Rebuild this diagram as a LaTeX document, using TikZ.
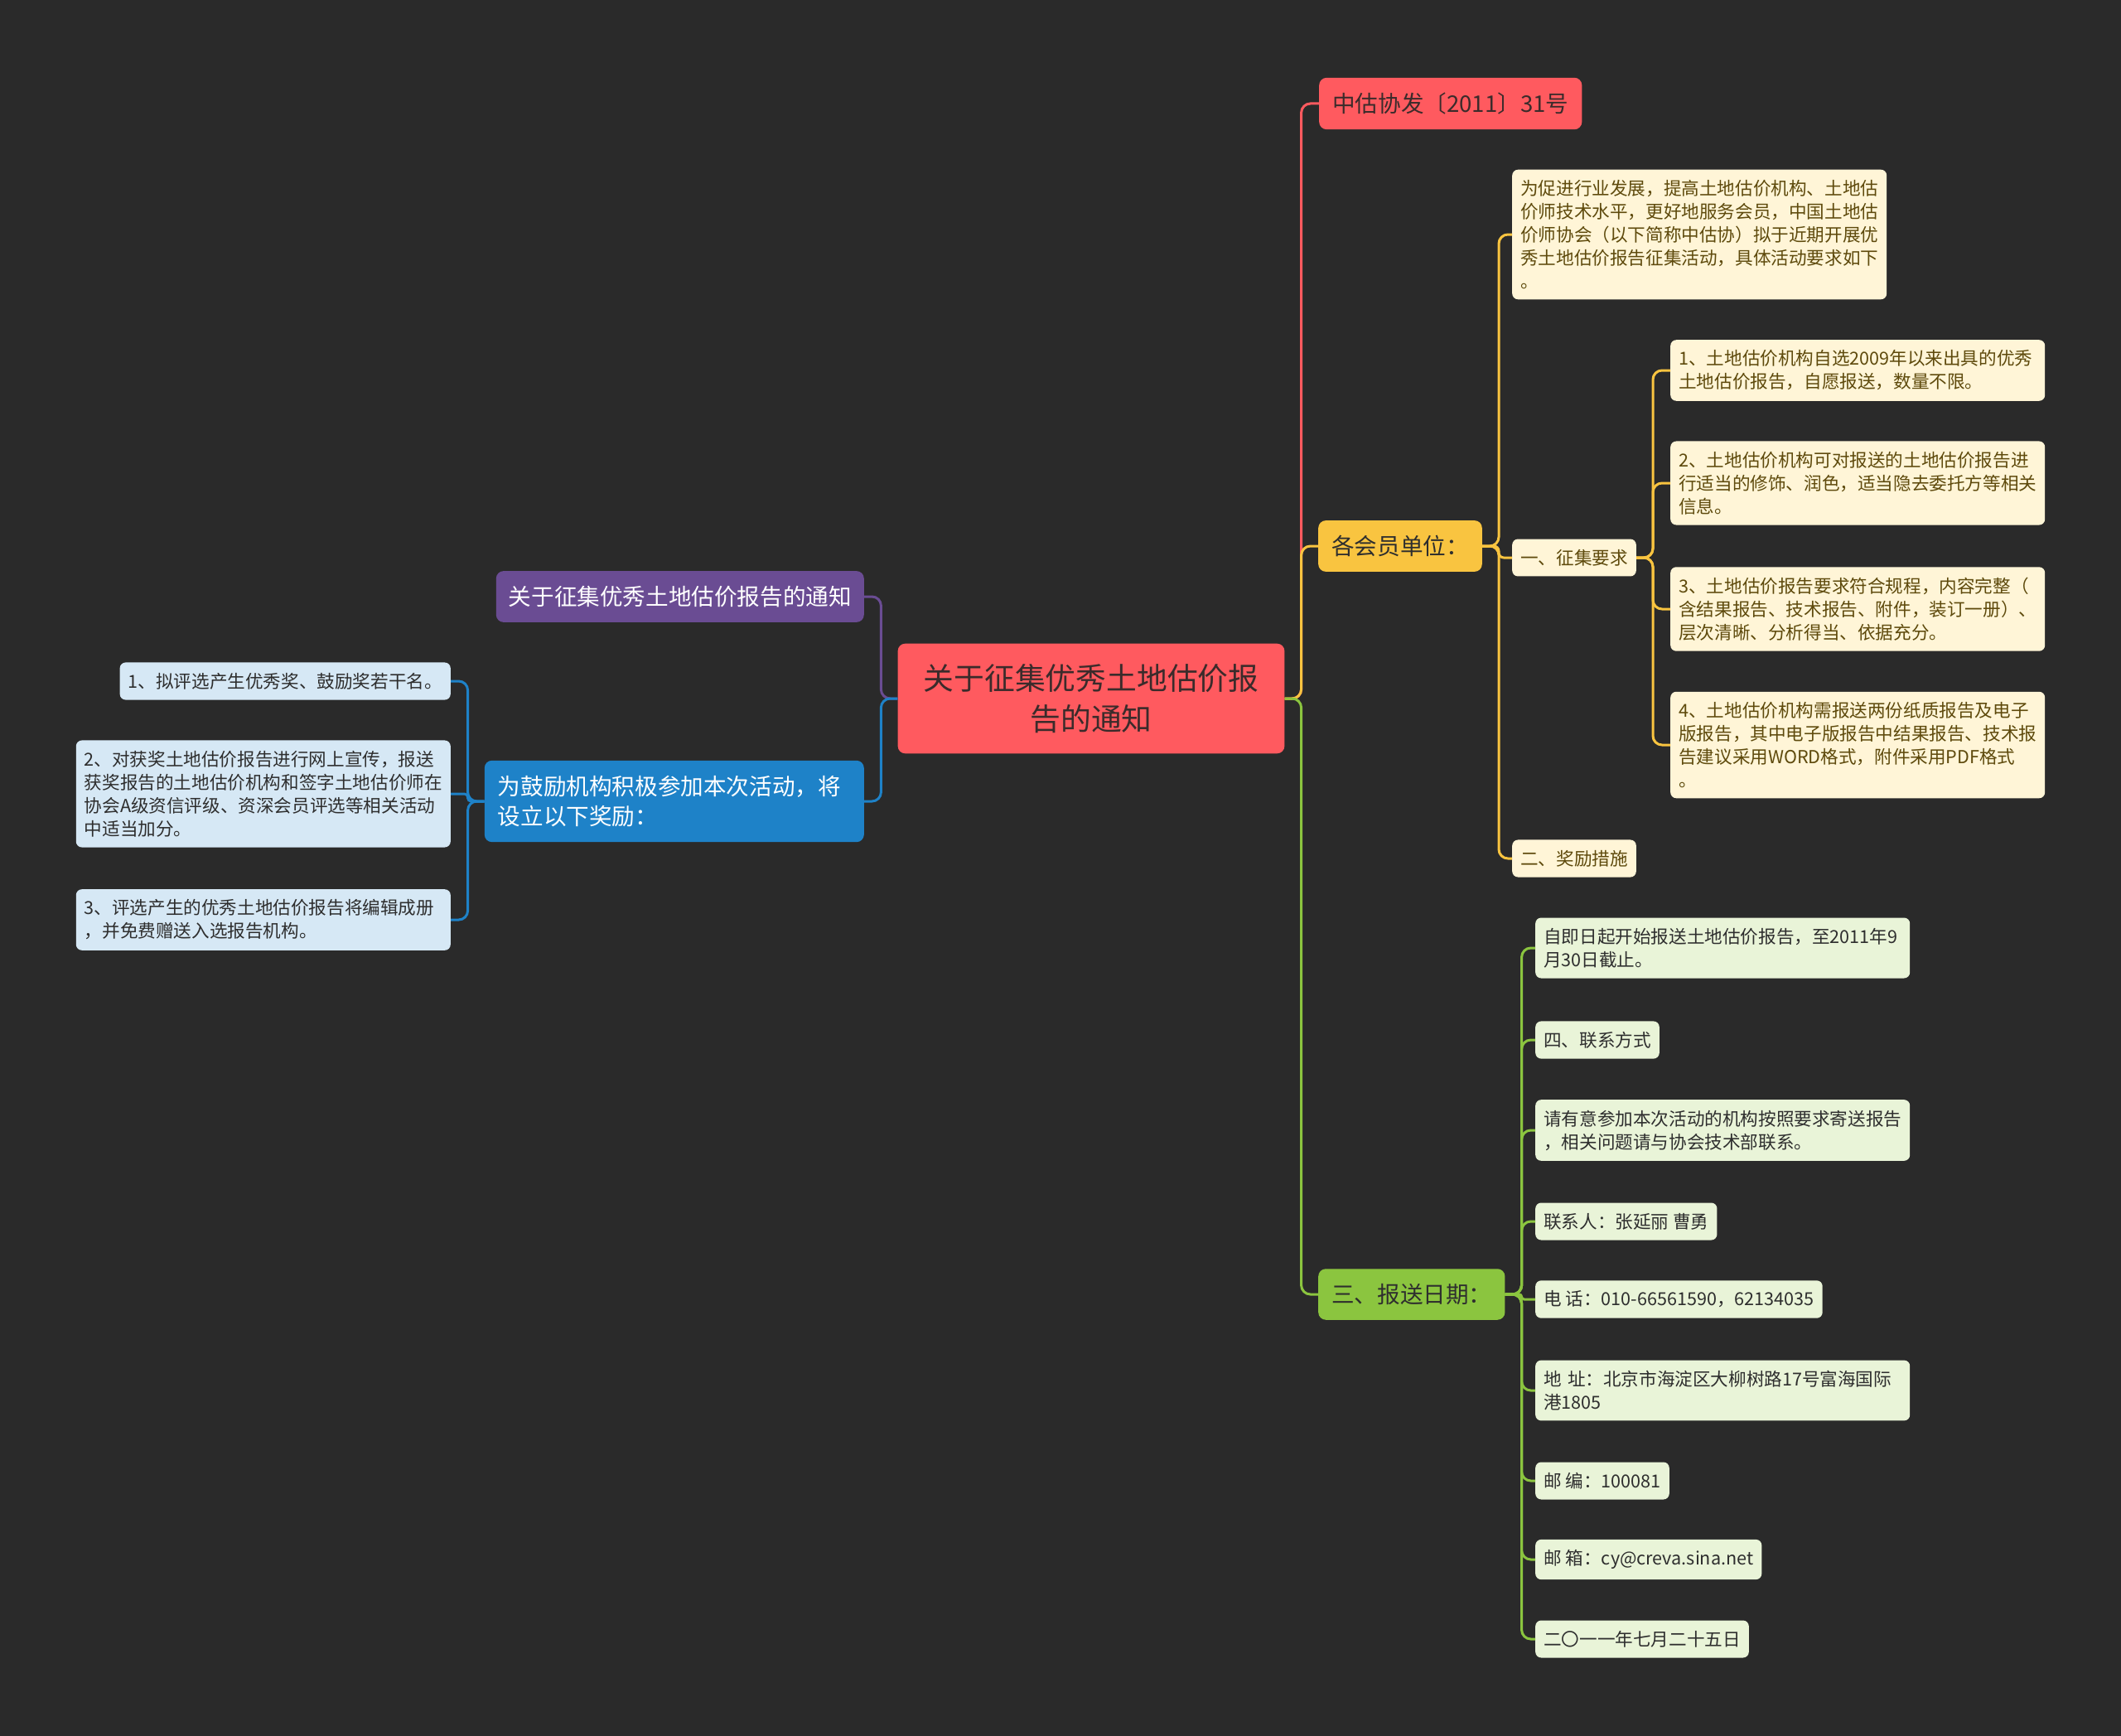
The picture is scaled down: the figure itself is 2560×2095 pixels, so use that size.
\documentclass[tikz,border=0pt]{standalone}
\usepackage{fontspec}
\setmainfont{Noto Sans CJK SC}
\definecolor{bgdark}{HTML}{2A2A2A}
\definecolor{rootred}{HTML}{FF5A5F}
\definecolor{rootink}{HTML}{3B2B2B}
\definecolor{sunyellow}{HTML}{F9C440}
\definecolor{leafgreen}{HTML}{8BC53F}
\definecolor{plum}{HTML}{6A4C93}
\definecolor{seablue}{HTML}{1E82C8}
\definecolor{creamfill}{HTML}{FFF5D7}
\definecolor{mintfill}{HTML}{E9F4D8}
\definecolor{icefill}{HTML}{D6E8F5}
\definecolor{inkdark}{HTML}{2E2E2E}
\definecolor{inkbrown}{HTML}{5E4A0C}
\tikzset{
  topic/.style={rounded corners=9pt, inner xsep=16pt, inner ysep=18pt,
    font=\fontsize{27.6pt}{36.7pt}\selectfont},
  leaf/.style={rounded corners=7pt, inner xsep=10pt, inner ysep=12.5pt,
    font=\fontsize{21.6pt}{28pt}\selectfont, align=left},
  wide/.style={text width=432pt},
  link/.style={line width=3pt, rounded corners=11pt},
}

\begin{document}
\begin{tikzpicture}[x=1pt, y=-1pt]
  \fill[bgdark] (0,0) rectangle (2560,2095);

  % centre topic
  \node[topic, fill=rootred, text=rootink, align=center, inner xsep=31pt, inner ysep=25pt,
        font=\fontsize{36.8pt}{48.3pt}\selectfont]
    (root) at (1317,843) {关于征集优秀土地估价报\\告的通知};

  % right side
  \node[topic, fill=rootred, text=rootink, anchor=west] (wenhao) at (1592,125) {中估协发〔2011〕31号};
  \node[topic, fill=sunyellow, text=inkdark, anchor=west] (huiyuan) at (1591,659) {各会员单位：};
  \node[topic, fill=leafgreen, text=inkdark, anchor=west] (riqi) at (1591,1562) {三、报送日期：};

  % left side
  \node[topic, fill=plum, text=white, anchor=east, inner xsep=15pt]
    (tongzhi) at (1043,720) {关于征集优秀土地估价报告的通知};
  \node[topic, fill=seablue, text=white, anchor=east, text width=426pt, align=left]
    (jiangli) at (1043,967) {为鼓励机构积极参加本次活动，将\\设立以下奖励：};

  \node[leaf, fill=icefill, text=inkdark, anchor=east] (jl1) at (544,822) {1、拟评选产生优秀奖、鼓励奖若干名。};
  \node[leaf, wide, fill=icefill, text=inkdark, anchor=east] (jl2) at (544,958)
    {2、对获奖土地估价报告进行网上宣传，报送\\获奖报告的土地估价机构和签字土地估价师在\\协会A级资信评级、资深会员评选等相关活动\\中适当加分。};
  \node[leaf, wide, fill=icefill, text=inkdark, anchor=east] (jl3) at (544,1110)
    {3、评选产生的优秀土地估价报告将编辑成册\\，并免费赠送入选报告机构。};

  % member units
  \node[leaf, wide, fill=creamfill, text=inkbrown, anchor=west] (shuoming) at (1825,283)
    {为促进行业发展，提高土地估价机构、土地估\\价师技术水平，更好地服务会员，中国土地估\\价师协会（以下简称中估协）拟于近期开展优\\秀土地估价报告征集活动，具体活动要求如下\\。};
  \node[leaf, fill=creamfill, text=inkbrown, anchor=west] (yaoqiu) at (1825,673) {一、征集要求};
  \node[leaf, fill=creamfill, text=inkbrown, anchor=west] (cuoshi) at (1825,1036) {二、奖励措施};

  \node[leaf, wide, fill=creamfill, text=inkbrown, anchor=west] (yq1) at (2016,447)
    {1、土地估价机构自选2009年以来出具的优秀\\土地估价报告，自愿报送，数量不限。};
  \node[leaf, wide, fill=creamfill, text=inkbrown, anchor=west] (yq2) at (2016,583)
    {2、土地估价机构可对报送的土地估价报告进\\行适当的修饰、润色，适当隐去委托方等相关\\信息。};
  \node[leaf, wide, fill=creamfill, text=inkbrown, anchor=west] (yq3) at (2016,735)
    {3、土地估价报告要求符合规程，内容完整（\\含结果报告、技术报告、附件，装订一册）、\\层次清晰、分析得当、依据充分。};
  \node[leaf, wide, fill=creamfill, text=inkbrown, anchor=west] (yq4) at (2016,899)
    {4、土地估价机构需报送两份纸质报告及电子\\版报告，其中电子版报告中结果报告、技术报\\告建议采用WORD格式，附件采用PDF格式\\。};

  % dates and contact
  \node[leaf, wide, fill=mintfill, text=inkdark, anchor=west] (rq1) at (1853,1144)
    {自即日起开始报送土地估价报告，至2011年9\\月30日截止。};
  \node[leaf, fill=mintfill, text=inkdark, anchor=west] (rq2) at (1853,1255) {四、联系方式};
  \node[leaf, wide, fill=mintfill, text=inkdark, anchor=west] (rq3) at (1853,1364)
    {请有意参加本次活动的机构按照要求寄送报告\\，相关问题请与协会技术部联系。};
  \node[leaf, fill=mintfill, text=inkdark, anchor=west] (rq4) at (1853,1474) {联系人：张延丽 曹勇};
  \node[leaf, fill=mintfill, text=inkdark, anchor=west] (rq5) at (1853,1568) {电 话：010-66561590，62134035};
  \node[leaf, wide, fill=mintfill, text=inkdark, anchor=west] (rq6) at (1853,1678)
    {地 址：北京市海淀区大柳树路17号富海国际\\港1805};
  \node[leaf, fill=mintfill, text=inkdark, anchor=west] (rq7) at (1853,1787) {邮 编：100081};
  \node[leaf, fill=mintfill, text=inkdark, anchor=west] (rq8) at (1853,1882) {邮 箱：cy@creva.sina.net};
  \node[leaf, fill=mintfill, text=inkdark, anchor=west] (rq9) at (1853,1978) {二〇一一年七月二十五日};

  % connectors
  \draw[link, rootred] (root.east) -- ++(20,0) |- (wenhao.west);
  \draw[link, sunyellow] (root.east) -- ++(20,0) |- (huiyuan.west);
  \draw[link, leafgreen] (root.east) -- ++(20,0) |- (riqi.west);
  \draw[link, plum] (root.west) -- ++(-20,0) |- (tongzhi.east);
  \draw[link, seablue] (root.west) -- ++(-20,0) |- (jiangli.east);

  \foreach \k/\r in {jl1/11, jl2/4, jl3/11}
    \draw[link, seablue, rounded corners=\r pt] (jiangli.west) -- ++(-20,0) |- (\k.east);
  \foreach \k/\r in {shuoming/11, yaoqiu/6, cuoshi/11}
    \draw[link, sunyellow, rounded corners=\r pt] (huiyuan.east) -- ++(20,0) |- (\k.west);
  \foreach \k in {yq1, yq2, yq3, yq4}
    \draw[link, sunyellow] (yaoqiu.east) -- ++(20,0) |- (\k.west);
  \foreach \k/\r in {rq1/11, rq2/11, rq3/11, rq4/11, rq5/3, rq6/11, rq7/11, rq8/11, rq9/11}
    \draw[link, leafgreen, rounded corners=\r pt] (riqi.east) -- ++(20,0) |- (\k.west);
\end{tikzpicture}
\end{document}
